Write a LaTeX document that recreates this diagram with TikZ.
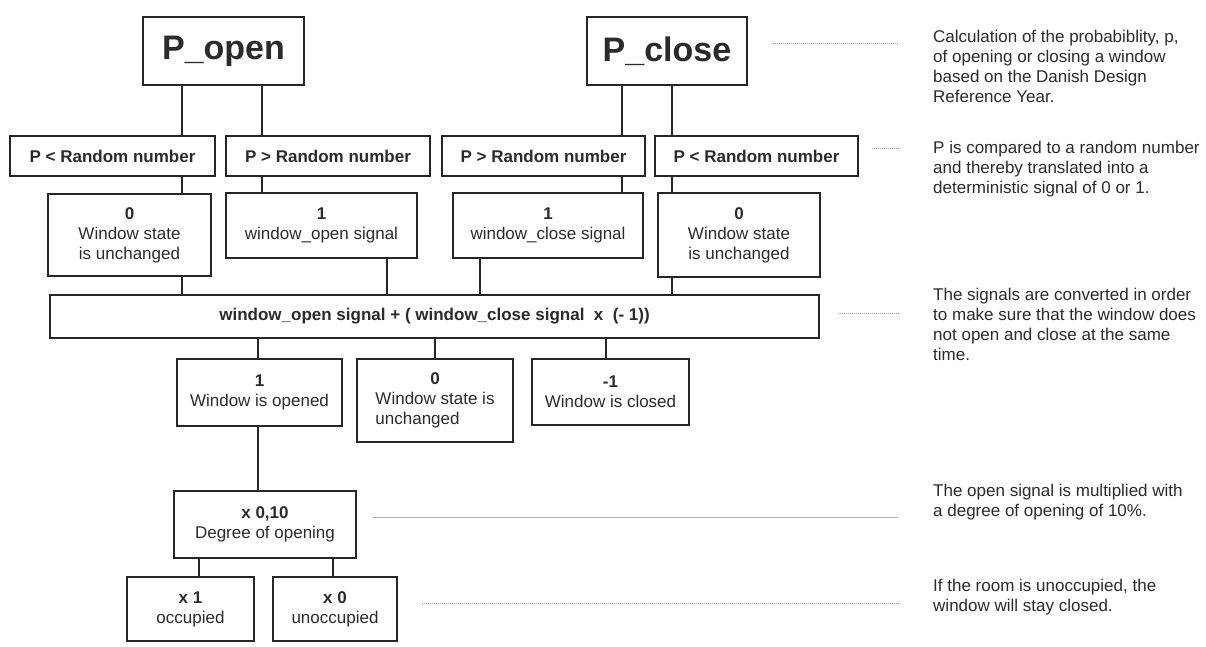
\documentclass[tikz,border=0pt]{standalone}
\usepackage{fontspec}
\setmainfont{Liberation Sans}
\definecolor{ink}{HTML}{2B2B2B}
\definecolor{edge}{HTML}{262626}
\definecolor{lead}{HTML}{9A9A9A}
\begin{document}
\begin{tikzpicture}[x=1pt,y=-1pt,
  box/.style={draw=edge, line width=1.8pt, inner sep=0pt, align=center, text=ink, font=\fontsize{17}{20}\selectfont},
  bigbox/.style={box, font=\fontsize{34}{40}\selectfont\bfseries},
  conn/.style={draw=edge, line width=1.5pt},
  leader/.style={draw=lead, line width=1pt, densely dotted},
  leadsolid/.style={draw=lead!80, line width=1pt},
  note/.style={anchor=north west, inner sep=0pt, align=left, text=ink, font=\fontsize{17}{20}\selectfont}]
\fill[white] (0,0) rectangle (1206,646);
\useasboundingbox (0,0) rectangle (1206,646);

% top boxes
\node[bigbox, minimum width=161pt, minimum height=68pt] (popen) at (223.5,51) {P\_open};
\node[bigbox, minimum width=160pt, minimum height=68pt] (pclose) at (667,51) {P\_close};

% row 2
\node[box, minimum width=205pt, minimum height=40pt] (r2a) at (112.5,156) {\textbf{P < Random number}};
\node[box, minimum width=204pt, minimum height=40pt] (r2b) at (328,156) {\textbf{P > Random number}};
\node[box, minimum width=203pt, minimum height=40pt] (r2c) at (543.5,156) {\textbf{P > Random number}};
\node[box, minimum width=203pt, minimum height=40pt] (r2d) at (756.5,156) {\textbf{P < Random number}};

% row 3
\node[box, minimum width=163pt, minimum height=82pt] (r3a) at (129.5,235) {\textbf{0}\\Window state\\is unchanged};
\node[box, minimum width=191pt, minimum height=65pt] (r3b) at (321.5,225.5) {\textbf{1}\\window\_open signal};
\node[box, minimum width=190pt, minimum height=65pt] (r3c) at (548,225.5) {\textbf{1}\\window\_close signal};
\node[box, minimum width=162pt, minimum height=84pt] (r3d) at (739,235) {\textbf{0}\\Window state\\is unchanged};

% sum
\node[box, minimum width=769pt, minimum height=43pt] (sum) at (434.5,316.5) {\textbf{window\_open signal + ( window\_close signal\ \ x\ \ (- 1))}};

% row 4
\node[box, minimum width=165pt, minimum height=67pt] (r4a) at (259.5,392.5) {\textbf{1}\\Window is opened};
\node[box, minimum width=156pt, minimum height=83pt] (r4b) at (435,400.5) {\begin{tabular}{@{}l@{}}\multicolumn{1}{@{}c@{}}{\textbf{0}}\\Window state is\\unchanged\end{tabular}};
\node[box, minimum width=157pt, minimum height=66pt] (r4c) at (610.5,392) {\textbf{-1}\\Window is closed};

% degree and occupancy
\node[box, minimum width=182pt, minimum height=67pt] (deg) at (265,524.5) {\textbf{x 0,10}\\Degree of opening};
\node[box, minimum width=127pt, minimum height=64pt] (occ) at (190.5,609) {\textbf{x 1}\\occupied};
\node[box, minimum width=124pt, minimum height=64pt] (unocc) at (335,609) {\textbf{x 0}\\unoccupied};

% connector x positions
\coordinate (xA) at (182,0);
\coordinate (xB) at (262,0);
\coordinate (xC) at (622,0);
\coordinate (xD) at (672,0);
\coordinate (xE) at (387,0);
\coordinate (xF) at (480,0);
\coordinate (xG) at (258,0);
\coordinate (xH) at (435,0);
\coordinate (xI) at (606,0);
\coordinate (xJ) at (199,0);
\coordinate (xK) at (333,0);

\draw[conn] (popen.south -| xA) -- (r2a.north -| xA);
\draw[conn] (popen.south -| xB) -- (r2b.north -| xB);
\draw[conn] (pclose.south -| xC) -- (r2c.north -| xC);
\draw[conn] (pclose.south -| xD) -- (r2d.north -| xD);

\draw[conn] (r2a.south -| xA) -- (r3a.north -| xA);
\draw[conn] (r2b.south -| xB) -- (r3b.north -| xB);
\draw[conn] (r2c.south -| xC) -- (r3c.north -| xC);
\draw[conn] (r2d.south -| xD) -- (r3d.north -| xD);

\draw[conn] (r3a.south -| xA) -- (sum.north -| xA);
\draw[conn] (r3b.south -| xE) -- (sum.north -| xE);
\draw[conn] (r3c.south -| xF) -- (sum.north -| xF);
\draw[conn] (r3d.south -| xD) -- (sum.north -| xD);

\draw[conn] (sum.south -| xG) -- (r4a.north -| xG);
\draw[conn] (sum.south -| xH) -- (r4b.north -| xH);
\draw[conn] (sum.south -| xI) -- (r4c.north -| xI);

\draw[conn] (r4a.south -| xG) -- (deg.north -| xG);
\draw[conn] (deg.south -| xJ) -- (occ.north -| xJ);
\draw[conn] (deg.south -| xK) -- (unocc.north -| xK);

% notes
\node[note] (n1) at (933,29.5) {Calculation of the probabiblity, p,\\of opening or closing a window\\based on the Danish Design\\Reference Year.};
\node[note] (n2) at (933,140.5) {P is compared to a random number\\and thereby translated into a\\deterministic signal of 0 or 1.};
\node[note] (n3) at (933,288) {The signals are converted in order\\to make sure that the window does\\not open and close at the same\\time.};
\node[note] (n4) at (933,483.5) {The open signal is multiplied with\\a degree of opening of 10\%.};
\node[note] (n5) at (933,578.5) {If the room is unoccupied, the\\window will stay closed.};

% leaders
\coordinate (la1) at (773,43);  \coordinate (lb1) at (898,43);
\coordinate (la2) at (872,148); \coordinate (lb2) at (900,148);
\coordinate (la3) at (838,313); \coordinate (lb3) at (900,313);
\coordinate (la4) at (373,517); \coordinate (lb4) at (898,517);
\coordinate (la5) at (422,603); \coordinate (lb5) at (900,603);
\draw[leader] (la1) -- (lb1);
\draw[leader] (la2) -- (lb2);
\draw[leader] (la3) -- (lb3);
\draw[leadsolid] (la4) -- (lb4);
\draw[leader] (la5) -- (lb5);
\end{tikzpicture}
\end{document}
